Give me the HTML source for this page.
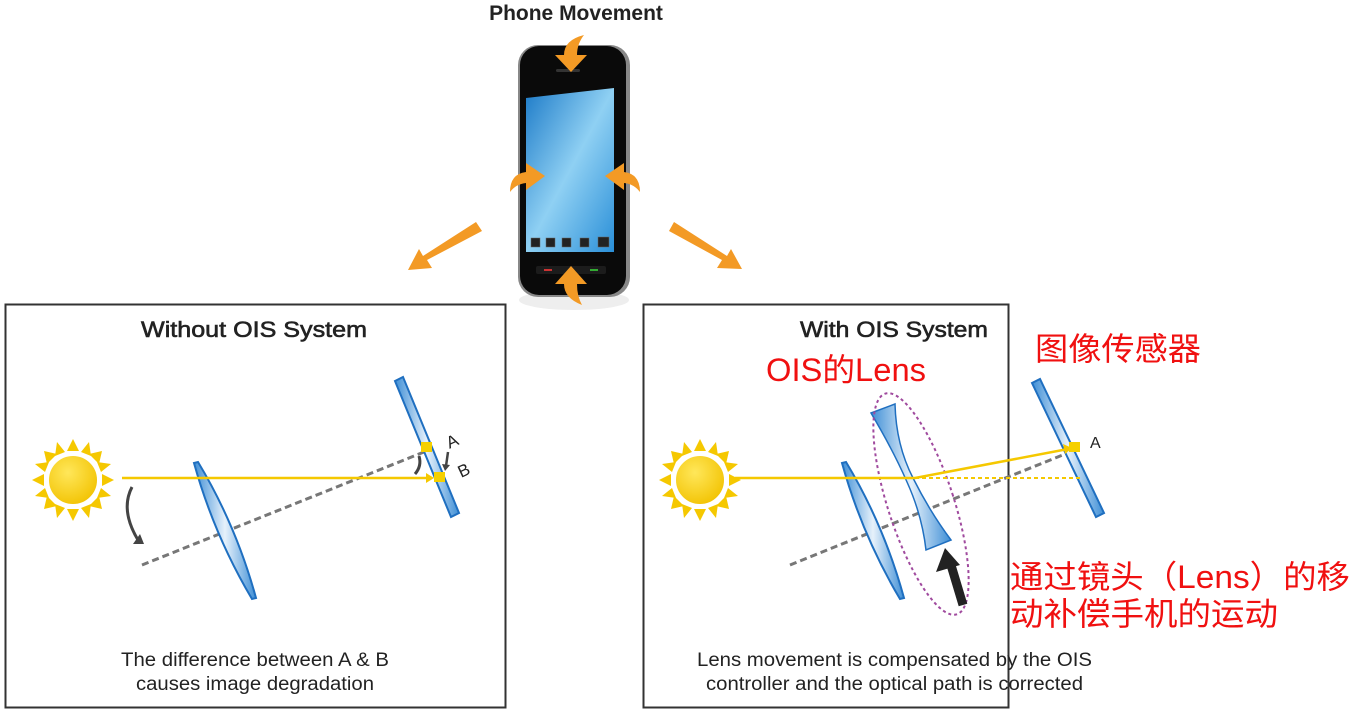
<!DOCTYPE html>
<html><head><meta charset="utf-8"><style>
html,body{margin:0;padding:0;background:#fff;}
svg{display:block}
text{font-family:"Liberation Sans","Noto Sans CJK SC",sans-serif;}
</style></head><body>
<svg width="1355" height="718" viewBox="0 0 1355 718" xmlns="http://www.w3.org/2000/svg">
<defs>
<radialGradient id="sun" cx="0.4" cy="0.35" r="0.7"><stop offset="0" stop-color="#ffe75a"/><stop offset="1" stop-color="#f2c200"/></radialGradient>
<linearGradient id="glass" x1="0" y1="0" x2="1" y2="0"><stop offset="0" stop-color="#3f8fd6"/><stop offset="0.5" stop-color="#e6f1fb"/><stop offset="1" stop-color="#3f8fd6"/></linearGradient>
<linearGradient id="scr" x1="0" y1="0" x2="1" y2="1"><stop offset="0" stop-color="#1d7bc8"/><stop offset="0.5" stop-color="#8fd0f3"/><stop offset="1" stop-color="#2a8fd8"/></linearGradient>
<g id="sunG">
 <g fill="#f5c800">
  <polygon points="0,-41 -6,-29 6,-29"/><polygon points="0,41 -6,29 6,29"/>
  <polygon points="-41,0 -29,-6 -29,6"/><polygon points="41,0 29,-6 29,6"/>
  <polygon points="-29,-29 -26,-16 -16,-26"/><polygon points="29,-29 26,-16 16,-26"/>
  <polygon points="-29,29 -26,16 -16,26"/><polygon points="29,29 26,16 16,26"/>
  <polygon points="-16,-38 -18,-24 -8,-28" /><polygon points="16,-38 18,-24 8,-28"/>
  <polygon points="-16,38 -18,24 -8,28" /><polygon points="16,38 18,24 8,28"/>
  <polygon points="-38,-16 -24,-18 -28,-8"/><polygon points="38,-16 24,-18 28,-8"/>
  <polygon points="-38,16 -24,18 -28,8"/><polygon points="38,16 24,18 28,8"/>
 </g>
 <circle r="25" fill="url(#sun)" stroke="#fff" stroke-width="2"/>
</g>
</defs>

<text x="576" y="20" font-size="21" font-weight="bold" text-anchor="middle" fill="#222">Phone Movement</text>

<!-- Phone -->
<ellipse cx="574" cy="300" rx="55" ry="10" fill="#eee"/>
<rect x="518" y="45" width="112" height="252" rx="20" fill="#888"/>
<rect x="520" y="46" width="106" height="249" rx="19" fill="#0a0a0a"/>
<rect x="556" y="69" width="24" height="3" rx="1.5" fill="#333"/>
<polygon points="526,98 614,88 614,252 526,252" fill="url(#scr)"/>
<g fill="#222" stroke="#666" stroke-width="0.5">
<rect x="531" y="238" width="9" height="9"/><rect x="546" y="238" width="9" height="9"/><rect x="562" y="238" width="9" height="9"/><rect x="580" y="238" width="9" height="9"/><rect x="598" y="237" width="11" height="10"/>
</g>
<rect x="536" y="266" width="70" height="8" rx="2" fill="#1c1c1c"/>
<rect x="544" y="269" width="8" height="2" fill="#c33"/><rect x="590" y="269" width="8" height="2" fill="#3a3"/>

<g fill="#f39a25">
 <path d="M584,35 Q564,40 564,55 L555,55 L571,72 L587,55 L577,55 Q577,44 584,35Z"/>
 <path d="M582,305 Q564,298 564,284 L555,284 L571,266 L587,284 L577,284 Q577,296 582,305Z"/>
 <path d="M510,192 Q510,174 526,172 L526,163 L545,176 L526,190 L526,183 Q516,184 510,192Z"/>
 <path d="M640,192 Q640,174 624,172 L624,163 L605,176 L624,190 L624,183 Q634,184 640,192Z"/>
 <polygon points="476,222 482,231 427,260 432,268 408,270 419,249 423,256"/>
 <polygon points="674,222 669,231 722,260 717,268 742,269 731,249 727,256"/>
</g>

<!-- Left box -->
<rect x="5.5" y="304.5" width="500" height="403" fill="none" stroke="#333" stroke-width="2"/>
<text x="141" y="337" font-size="22" fill="#222" stroke="#222" stroke-width="0.6" textLength="226" lengthAdjust="spacingAndGlyphs">Without OIS System</text>
<use href="#sunG" x="73" y="480"/>
<line x1="142" y1="565" x2="424" y2="452" stroke="#777" stroke-width="3" stroke-dasharray="7,4"/>
<path d="M198,462 Q236,525 256,598 L252,599 Q214,535 194,463Z" fill="url(#glass)" stroke="#1f6fc0" stroke-width="2"/>
<polygon points="395,381 403,377 459,513 451,517" fill="url(#glass)" stroke="#1f6fc0" stroke-width="2"/>
<line x1="122" y1="478" x2="432" y2="478" stroke="#f5c800" stroke-width="2.5"/>
<polygon points="434,478 426,473 426,483" fill="#f5c800"/>
<rect x="421" y="442" width="11" height="10" fill="#f5d000"/>
<rect x="434" y="472" width="11" height="10" fill="#f5d000"/>
<path d="M132,487 Q120,510 138,540" fill="none" stroke="#444" stroke-width="3"/>
<polygon points="133,544 144,544 140,534" fill="#444"/>
<path d="M419,456 Q422,466 415,474" fill="none" stroke="#444" stroke-width="3"/>
<path d="M448,452 L446,466" stroke="#444" stroke-width="2.5"/>
<polygon points="442,464 450,465 445,471" fill="#444"/>
<text x="446" y="447" font-size="17" fill="#222" transform="rotate(-25 452 440)">A</text>
<text x="458" y="476" font-size="17" fill="#222" transform="rotate(-25 464 470)">B</text>
<text x="121" y="666" font-size="19" fill="#222" textLength="268" lengthAdjust="spacingAndGlyphs">The difference between A &amp; B</text>
<text x="136" y="690" font-size="19" fill="#222" textLength="238" lengthAdjust="spacingAndGlyphs">causes image degradation</text>

<!-- Right box -->
<rect x="643.5" y="304.5" width="365" height="403" fill="none" stroke="#333" stroke-width="2"/>
<text x="800" y="337" font-size="22" fill="#222" stroke="#222" stroke-width="0.6" textLength="188" lengthAdjust="spacingAndGlyphs">With OIS System</text>
<use href="#sunG" x="700" y="480"/>
<line x1="790" y1="565" x2="1070" y2="452" stroke="#777" stroke-width="3" stroke-dasharray="7,4"/>
<path d="M846,462 Q884,525 904,598 L900,599 Q862,535 842,463Z" fill="url(#glass)" stroke="#1f6fc0" stroke-width="2"/>
<path d="M871,413 L895,404 Q896,445 913,478 Q930,512 951,540 L926,550 Q922,515 907,482 Q893,450 871,413Z" fill="url(#glass)" stroke="#1f6fc0" stroke-width="1.5"/>
<ellipse cx="921" cy="504" rx="33" ry="116" transform="rotate(-18 921 504)" fill="none" stroke="#a04a9e" stroke-width="2" stroke-dasharray="3,3"/>
<polygon points="1032,383 1040,379 1104,513 1096,517" fill="url(#glass)" stroke="#1f6fc0" stroke-width="2"/>
<path d="M735,478 L915,478 L1068,449" fill="none" stroke="#f5c800" stroke-width="2.5"/>
<polygon points="1072,448 1063,444 1065,454" fill="#f5c800"/>
<line x1="915" y1="478" x2="1080" y2="478" stroke="#f5c800" stroke-width="2" stroke-dasharray="4,3"/>
<rect x="1069" y="442" width="11" height="10" fill="#f5d000"/>
<text x="1090" y="448" font-size="16" fill="#222">A</text>
<line x1="963" y1="605" x2="951" y2="565" stroke="#222" stroke-width="9"/>
<polygon points="945,548 936,572 960,565" fill="#222"/>

<text x="697" y="666" font-size="19" fill="#222" textLength="395" lengthAdjust="spacingAndGlyphs">Lens movement is compensated by the OIS</text>
<text x="706" y="690" font-size="19" fill="#222" textLength="377" lengthAdjust="spacingAndGlyphs">controller and the optical path is corrected</text>

<g fill="#f01010" font-size="32">
<text x="766" y="381" textLength="160" lengthAdjust="spacingAndGlyphs">OIS的Lens</text>
<text x="1035" y="360" textLength="166" lengthAdjust="spacingAndGlyphs">图像传感器</text>
<text x="1010" y="588" textLength="340" lengthAdjust="spacingAndGlyphs">通过镜头（Lens）的移</text>
<text x="1010" y="625" textLength="268" lengthAdjust="spacingAndGlyphs">动补偿手机的运动</text>
</g>
</svg>
</body></html>
